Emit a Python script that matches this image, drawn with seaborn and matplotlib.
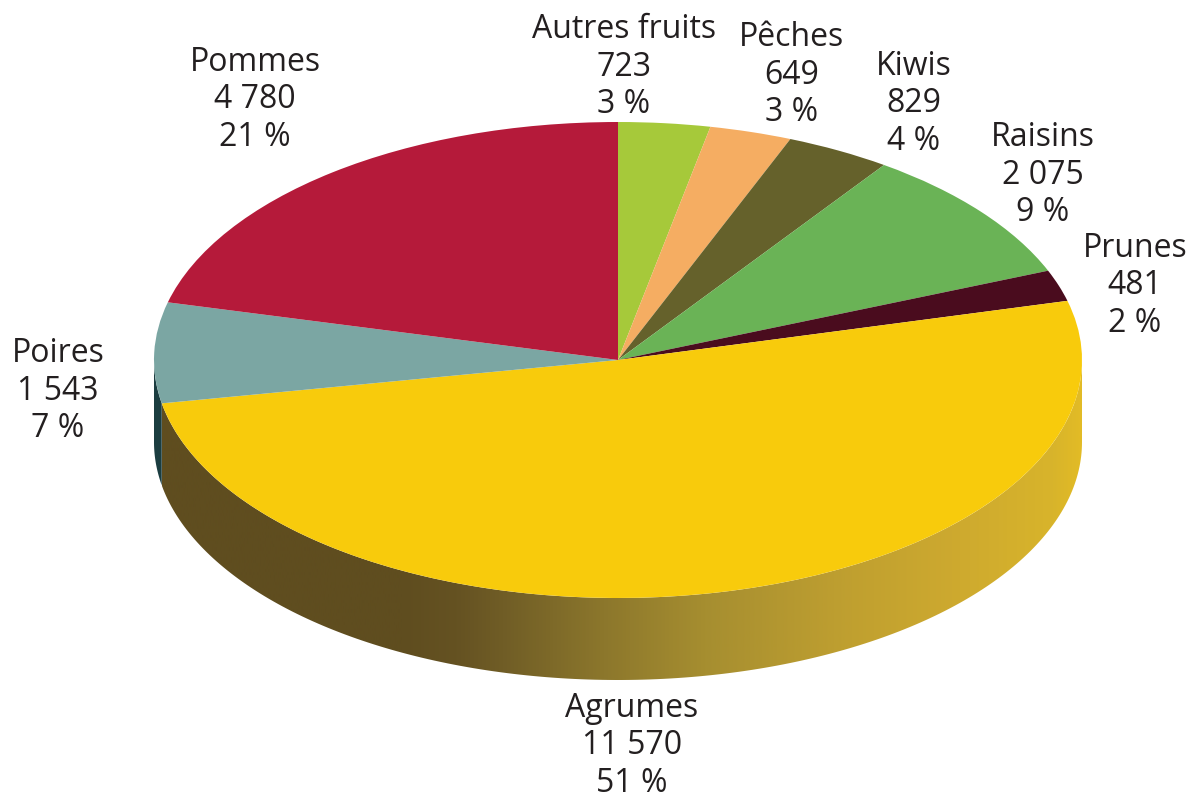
import numpy as np
import matplotlib
matplotlib.use('Agg')
import matplotlib.pyplot as plt
import seaborn as sns
from matplotlib.colors import LinearSegmentedColormap
from matplotlib.patches import Polygon

# Data
fruits = ['Autres fruits', 'Pêches', 'Kiwis', 'Raisins', 'Prunes', 'Agrumes', 'Poires', 'Pommes']
tonnes = [723, 649, 829, 2075, 481, 11570, 1543, 4780]
shares = [3, 3, 4, 9, 2, 51, 7, 21]

top_colors = ['#a6c93a', '#f5ad62', '#65612b', '#6ab356', '#4a0c1e', '#f8cb0c', '#7ba6a3', '#b51a3a']

W, H = 1191, 794
CX, CY, RX, RY = 618, 360, 464, 238
DEPTH = 82 / RY

# label centres in pixels
label_pos = [(624, 67), (792, 75), (914, 104), (1043, 175), (1135, 286), (58, 391), (255, 100), (632, 746)]
label_order = ['Autres fruits', 'Pêches', 'Kiwis', 'Raisins', 'Prunes', 'Poires', 'Pommes', 'Agrumes']


def wall_polygon(start, end):
    """Outline of the pie's side between two clockwise angles from the top."""
    t = np.radians(np.linspace(start, end, 200))
    x, y = np.sin(t), np.cos(t)
    return np.r_[np.c_[x, y], np.c_[x[::-1], y[::-1] - DEPTH]]


def main():
    sns.set_theme(style='white')
    plt.rcParams['font.family'] = ['Open Sans', 'DejaVu Sans']

    fig = plt.figure(figsize=(W / 100, H / 100), dpi=100)
    ax = fig.add_axes([0, 0, 1, 1])

    ax.pie(tonnes, colors=sns.color_palette(top_colors), startangle=90, counterclock=False,
           radius=1, center=(0, 0), wedgeprops={'linewidth': 0, 'zorder': 3})
    ax.set_aspect('auto')
    xlim = (-CX / RX, (W - CX) / RX)
    ylim = ((CY - H) / RY, CY / RY)

    # side of the pie
    angle_poires = 360 * sum(tonnes[:6]) / sum(tonnes)

    shade = LinearSegmentedColormap.from_list('side', [
        (0.00, '#5f4d1f'), (0.26, '#5f4d1f'), (0.32, '#655222'), (0.37, '#705d26'),
        (0.48, '#8c772c'), (0.59, '#a68e30'), (0.75, '#c0a030'), (0.86, '#cda92f'),
        (0.97, '#d8b42b'), (1.00, '#e2bb26')])
    gradient = np.linspace(0, 1, 512).reshape(1, -1)
    left, right = (162 - CX) / RX, 1
    img = ax.imshow(gradient, cmap=shade, extent=(left, right, ylim[0], ylim[1]),
                    aspect='auto', zorder=1, interpolation='bilinear')
    wall = Polygon(wall_polygon(90, angle_poires), closed=True, transform=ax.transData,
                   facecolor='none', edgecolor='none')
    ax.add_patch(wall)
    img.set_clip_path(wall)

    ax.add_patch(Polygon(wall_polygon(angle_poires, 270), closed=True, facecolor='#1b3d40',
                         edgecolor='none', zorder=1))

    ax.set_xlim(xlim)
    ax.set_ylim(ylim)
    ax.axis('off')

    # labels
    for name, (px, py) in zip(label_order, label_pos):
        i = fruits.index(name)
        value = f'{tonnes[i]:,}'.replace(',', ' ')
        ax.text(px / W, 1 - py / H, f'{name}\n{value}\n{shares[i]} %', transform=fig.transFigure,
                ha='center', va='center', fontsize=23, linespacing=1.17, color='#231f20', zorder=5)

    fig.savefig('out.png', dpi=100)
    plt.close(fig)


if __name__ == "__main__":
    main()
